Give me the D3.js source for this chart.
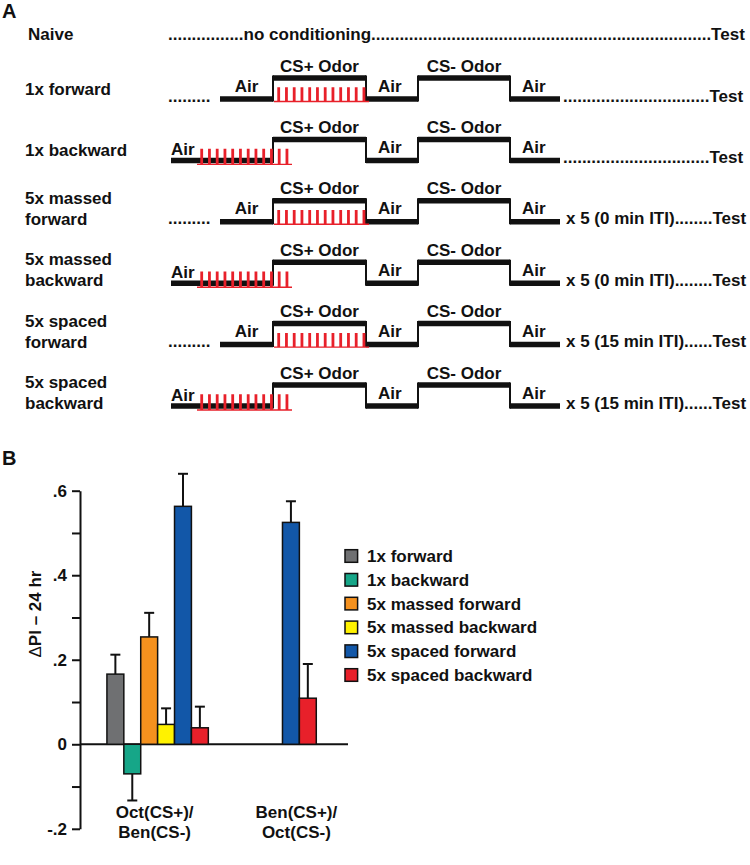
<!DOCTYPE html>
<html><head><meta charset="utf-8">
<script src="https://cdn.jsdelivr.net/npm/d3@7"></script>
<style>
body{margin:0;background:#fff}
text{font-family:"Liberation Sans",Arial,Helvetica,sans-serif;font-weight:bold;fill:#111}
</style>
</head><body>
<svg id="chart" width="750" height="865"></svg>
<script>
// ---------- Panel A data (protocol schematic) ----------
const protocolLabelLines = [["Naive"],["1x forward"],["1x backward"],["5x massed","forward"],["5x massed","backward"],["5x spaced","forward"],["5x spaced","backward"]];
const protocolShockTiming = [null,"forward","backward","forward","backward","forward","backward"];
const protocolRepeats = [null,"","","x 5 (0 min ITI)","x 5 (0 min ITI)","x 5 (15 min ITI)","x 5 (15 min ITI)"];
const stimulusPhases = ["Air","CS+ Odor","Air","CS- Odor","Air"];
const stimulusLevels = [0,1,0,1,0];
const shocksPerTrain = 12;

// ---------- Panel B data ----------
const categories = [["Oct(CS+)/","Ben(CS-)"],["Ben(CS+)/","Oct(CS-)"]];
const seriesNames = ["1x forward","1x backward","5x massed forward","5x massed backward","5x spaced forward","5x spaced backward"];
const seriesColors = ["#6f7072","#16a688","#f5911e","#fff200","#1257a8","#e8202a"];
const octBenMeans = [0.166,-0.070,0.254,0.047,0.563,0.039];
const octBenErrors = [0.046,0.063,0.057,0.038,0.077,0.050];
const benOctMeans = [null,null,null,null,0.525,0.109];
const benOctErrors = [null,null,null,null,0.050,0.081];
const yTickValues = [-0.2,-0.1,0,0.1,0.2,0.3,0.4,0.5,0.6];
const yTickLabels = ["-.2","","0","",".2","",".4","",".6"];

const svg = d3.select("#chart");
const FS = 17;

// ---------- Panel A ----------
svg.append("text").attr("x",2).attr("y",18).attr("font-size",20).text("A");
const A = svg.append("g");
const rowBase = i => 99 + 61.4*(i-1);   // low-level line y for row i (i>=1)
const phaseEdges = [273, 366, 418, 510, 560];
const preStart = {forward:220, backward:171};
const hiOffset = -21;

function dotFill(g, x, y, before, after, xEnd){
  const t = g.append("text").attr("x",x).attr("y",y).attr("font-size",FS);
  let n = 0;
  t.text(before + after);
  while (n < 300) {
    t.text(before + ".".repeat(n+1) + after);
    if (t.node().getComputedTextLength() > xEnd - x) break;
    n++;
  }
  t.text(before + ".".repeat(n) + after);
  return t;
}

protocolLabelLines.forEach((lines, i) => {
  if (i === 0) {
    A.append("text").attr("x",28).attr("y",40).attr("font-size",FS).text(lines[0]);
    dotFill(A, 168, 40, ".".repeat(16) + "no conditioning", "Test", 747);
    return;
  }
  const L = rowBase(i);
  const H = L + hiOffset;
  const type = protocolShockTiming[i];
  // row label
  if (lines.length === 1) {
    A.append("text").attr("x",25).attr("y", L - 4).attr("font-size",FS).text(lines[0]);
  } else {
    lines.forEach((ln, k) => A.append("text").attr("x",25).attr("y", L - 18 + k*21).attr("font-size",FS).text(ln));
  }
  // step trace
  const xs = [preStart[type]].concat(phaseEdges);
  stimulusPhases.forEach((ph, p) => {
    const yy = stimulusLevels[p] ? H : L;
    A.append("line").attr("x1",xs[p]).attr("x2",xs[p+1]).attr("y1",yy).attr("y2",yy)
      .attr("stroke","#111").attr("stroke-width",5.5);
    if (p > 0) {
      A.append("line").attr("x1",xs[p]).attr("x2",xs[p]).attr("y1",L+2.5).attr("y2",H-2.5)
        .attr("stroke","#111").attr("stroke-width",2);
    }
    if (ph === "Air") {
      if (p === 0 && type === "backward") {
        A.append("text").attr("x",xs[0]).attr("y",L-5).attr("font-size",FS).text(ph);
      } else if (p === 0) {
        A.append("text").attr("x",(xs[0]+xs[1])/2).attr("y",L-7.5).attr("font-size",FS).attr("text-anchor","middle").text(ph);
      } else {
        A.append("text").attr("x",xs[p]+12).attr("y",L-7.5).attr("font-size",FS).text(ph);
      }
    } else {
      A.append("text").attr("x",(xs[p]+xs[p+1])/2).attr("y",H-6.5).attr("font-size",FS).attr("text-anchor","middle").text(ph);
    }
  });
  // shock train (red)
  const span = type === "forward" ? [274, 369] : [197, 292];
  const base = type === "forward" ? L + 2.5 : L + 4;
  const top = L - 11;
  const px = d3.scaleLinear().domain([0, shocksPerTrain]).range([span[0]+1, span[1]-1]);
  let d = `M${span[0]},${base}`;
  d3.range(shocksPerTrain).forEach(k => {
    const x0 = px(k) + 3, w = 1.4;
    d += `L${x0},${base}L${x0},${top}L${x0+w},${top}L${x0+w},${base}`;
  });
  d += `L${span[1]},${base}`;
  A.append("path").attr("d",d).attr("fill","none").attr("stroke","#e8202a").attr("stroke-width",1.4);
  if (type === "forward") {
    A.append("text").attr("x",168).attr("y",L+2.5).attr("font-size",FS).text(".........");
  }
  const rep = protocolRepeats[i];
  dotFill(A, rep ? 566 : 563, L + 2.5, rep, "Test", 747);
});

// ---------- Panel B ----------
svg.append("text").attr("x",2).attr("y",465).attr("font-size",20).text("B");
const B = svg.append("g");
const y = d3.scaleLinear().domain([-0.2, 0.6]).range([828.8, 490.7]);
const axisX = 80;
const yAxis = d3.axisLeft(y).tickValues(yTickValues)
  .tickFormat((d,i) => yTickLabels[i]).tickSize(8).tickSizeOuter(0).tickPadding(5);
const ax = B.append("g").attr("transform",`translate(${axisX},0)`).call(yAxis);
ax.select(".domain").attr("stroke","#111").attr("stroke-width",2);
ax.selectAll(".tick line").attr("stroke","#111").attr("stroke-width",2);
ax.selectAll(".tick text").attr("font-size",FS).attr("font-family",null).style("fill","#111");

B.append("line").attr("x1",axisX).attr("x2",348).attr("y1",y(0)).attr("y2",y(0))
  .attr("stroke","#111").attr("stroke-width",2);

// y title
const yt = B.append("text").attr("transform",`translate(41,614) rotate(-90)`).attr("text-anchor","middle")
  .attr("font-size",FS);
yt.append("tspan").attr("font-weight","normal").text("\u0394");
yt.append("tspan").text("PI \u2013 24 hr");

const xGroup = d3.scaleBand().domain(d3.range(categories.length)).range([86.75, 370.25]).padding(0);
const barW = 16.9;
const groupMeans = [octBenMeans, benOctMeans];
const groupErrs = [octBenErrors, benOctErrors];

groupMeans.forEach((means, gi) => {
  const present = d3.range(means.length).filter(j => means[j] !== null);
  const center = xGroup(gi) + xGroup.bandwidth()/2;
  const xInner = d3.scaleBand().domain(present).range([center - present.length*barW/2, center + present.length*barW/2]).padding(0);
  present.forEach(j => {
    const v = means[j], e = groupErrs[gi][j];
    const x0 = xInner(j), w = xInner.bandwidth();
    const yTop = y(Math.max(0, v)), yBot = y(Math.min(0, v));
    const yEnd = v >= 0 ? y(v + e) : y(v - e);
    const yStart = y(v);
    B.append("line").attr("x1",x0+w/2).attr("x2",x0+w/2).attr("y1",yStart).attr("y2",yEnd)
      .attr("stroke","#111").attr("stroke-width",2);
    B.append("line").attr("x1",x0+w/2-5).attr("x2",x0+w/2+5).attr("y1",yEnd).attr("y2",yEnd)
      .attr("stroke","#111").attr("stroke-width",2);
    B.append("rect").attr("x",x0).attr("y",yTop).attr("width",w).attr("height",yBot-yTop)
      .attr("fill",seriesColors[j]).attr("stroke","#111").attr("stroke-width",1.5);
  });
  categories[gi].forEach((ln, k) => {
    B.append("text").attr("x",center-3).attr("y",818 + k*20).attr("font-size",FS)
      .attr("text-anchor","middle").text(ln);
  });
});

// legend
const lg = B.append("g");
seriesNames.forEach((nm, j) => {
  const cy = 556 + j*23.8;
  lg.append("rect").attr("x",345).attr("y",cy-6.3).attr("width",12.6).attr("height",12.6)
    .attr("fill",seriesColors[j]).attr("stroke","#111").attr("stroke-width",1.5);
  lg.append("text").attr("x",367).attr("y",cy+6).attr("font-size",FS).text(nm);
});
</script>
</body></html>
